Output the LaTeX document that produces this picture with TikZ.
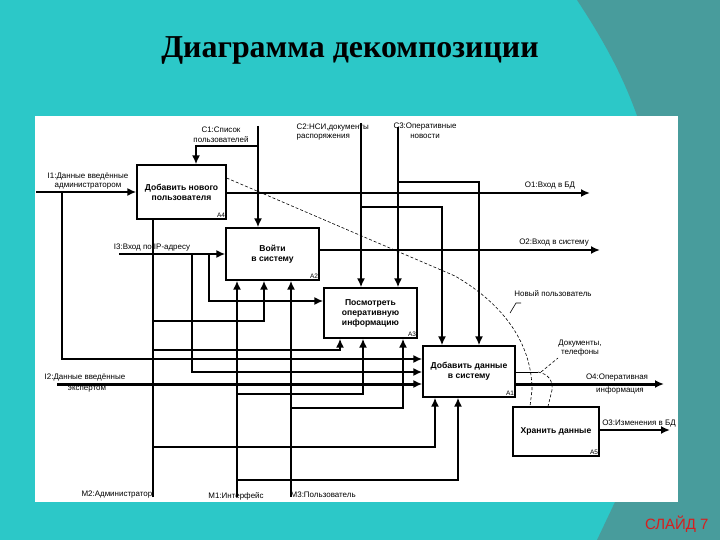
\documentclass[tikz,border=0pt]{standalone}
\usepackage{fontspec}
\setmainfont{Liberation Serif}
\newfontfamily\labelfont{Liberation Sans}
\usetikzlibrary{arrows.meta}
\definecolor{slideteal}{RGB}{44,200,200}
\definecolor{slidedark}{RGB}{72,156,156}
\definecolor{slidered}{RGB}{215,30,30}
\tikzset{
  func/.style={draw, line width=1.3bp, fill=white, inner sep=1bp, align=center,
    font=\labelfont\bfseries\fontsize{8.6}{10}\selectfont},
  flow/.style={line width=2.2bp},
  into/.style={flow, -{Latex[length=9bp,width=8bp]}},
  lbl/.style={font=\labelfont\fontsize{8}{9.5}\selectfont, inner sep=0.5bp, align=center},
  boxnr/.style={font=\labelfont\fontsize{6.5}{7}\selectfont, inner sep=1.5bp, anchor=south east},
  tunnel/.style={line width=0.6bp, dash pattern=on 3bp off 2bp}
}

\begin{document}
\begin{tikzpicture}[x=1bp, y=-1bp]
  \useasboundingbox (0,0) rectangle (720,540);
  \fill[slideteal] (0,0) rectangle (720,540);
  \fill[slidedark] (577,0) .. controls (610,50) and (630,90) .. (645,140) -- (615,502)
    -- (597,540) -- (720,540) -- (720,0) -- cycle;
  \fill[white] (35,116) rectangle (678,502);

  \node[font=\bfseries\fontsize{32}{36}\selectfont] (title) at (350,50) {Диаграмма декомпозиции};
  \node[font=\labelfont\fontsize{15}{18}\selectfont, text=slidered, anchor=east] (slide) at (712,524) {СЛАЙД 7};

  % functions
  \node[func, minimum width=89bp, minimum height=54bp] (a4) at (181.5,192) {Добавить нового\\пользователя};
  \node[func, minimum width=93bp, minimum height=52bp] (a2) at (272.5,254) {Войти\\в систему};
  \node[func, minimum width=93bp, minimum height=50bp] (a3) at (370.5,313) {Посмотреть\\оперативную\\информацию};
  \node[func, minimum width=92bp, minimum height=51bp] (a1) at (469,371.5) {Добавить данные\\в систему};
  \node[func, minimum width=86bp, minimum height=49bp] (a5) at (556,431.5) {Хранить данные};
  \node[boxnr] at (a4.south east) {A4};
  \node[boxnr] at (a2.south east) {A2};
  \node[boxnr] at (a3.south east) {A3};
  \node[boxnr] at (a1.south east) {A1};
  \node[boxnr] at (a5.south east) {A5};

  \coordinate (i1) at (36,192);
  \coordinate (i3) at (119,254);
  \coordinate (i2) at (57,384);
  \coordinate (c1) at (258,126);
  \coordinate (c2) at (361,123);
  \coordinate (c3) at (398,127);
  \coordinate (m2) at (153,497);
  \coordinate (m1) at (237,497);
  \coordinate (m3) at (291,497);
  \coordinate (o1) at (590,193);
  \coordinate (o2) at (600,250);
  \coordinate (o4) at (664,384);
  \coordinate (o3) at (670,430);

  % inputs
  \draw[into] (i1) -- (a4.west |- i1);
  \draw[into] (62,192) |- (a1.west |- 0,359);
  \draw[into] (i3) -- (a2.west |- i3);
  \draw[into] (192,254) |- (a1.west |- 0,372);
  \draw[into] (209,254) |- (a3.west |- 0,301);
  \draw[into, line width=3bp] (i2) -- (a1.west |- i2);

  % controls
  \draw[into] (c1) -- (c1 |- a2.north);
  \draw[into] (258,146) -| (196,0 |- a4.north);
  \draw[into] (c2) -- (c2 |- a3.north);
  \draw[into] (361,207) -| (442,0 |- a1.north);
  \draw[into] (c3) -- (c3 |- a3.north);
  \draw[into] (398,182) -| (479,0 |- a1.north);

  % mechanisms
  \draw[flow] (m2) -- (m2 |- a4.south);
  \draw[into] (153,321) -| (264,0 |- a2.south);
  \draw[into] (153,350) -| (340,0 |- a3.south);
  \draw[into] (153,447) -| (435,0 |- a1.south);
  \draw[into] (m1) -- (m1 |- a2.south);
  \draw[into] (237,394) -| (363,0 |- a3.south);
  \draw[into] (237,480) -| (458,0 |- a1.south);
  \draw[into] (m3) -- (m3 |- a2.south);
  \draw[into] (291,408) -| (403,0 |- a3.south);

  % outputs
  \draw[into] (a4.east |- o1) -- (o1);
  \draw[into] (a2.east |- o2) -- (o2);
  \draw[into, line width=3bp] (a1.east |- o4) -- (o4);
  \draw[into] (a5.east |- o3) -- (o3);
  \draw[line width=0.8bp] (a1.east |- 0,372) -- (538,372);
  \draw[tunnel] (538,372) .. controls (548,374) and (553,380) .. (552,390) -- (548,0 |- a5.north);
  \draw[tunnel] (a4.east |- 0,178) -- (455,276) .. controls (505,305) and (532,345) .. (532,390)
    -- (530,0 |- a5.north);
  \draw[line width=0.6bp] (510,313) -- (516,303) -- (521,303);
  \draw[tunnel] (541,372) -- (558,358);

  % labels
  \node[lbl, anchor=south] (i1txt) at (88,190) {I1:Данные введённые\\администратором};
  \node[lbl, anchor=south] (i3txt) at (152,252) {I3:Вход по IP-адресу};
  \node[lbl, anchor=south] (i2txt) at (85,382) {I2:Данные введённые};
  \node[lbl, anchor=north] at (87,386) {экспертом};
  \node[lbl, anchor=south] (c1txt) at (221,143) {C1:Список\\пользователей};
  \node[lbl, anchor=south west, align=left] (c2txt) at (296,141) {C2:НСИ,документы\\распоряжения};
  \node[lbl, anchor=south] (c3txt) at (425,139) {C3:Оперативные\\новости};
  \node[lbl, anchor=south] (o1txt) at (550,190) {O1:Вход в БД};
  \node[lbl, anchor=south] (o2txt) at (554,247) {O2:Вход в систему};
  \node[lbl, anchor=south] (o4txt) at (617,382) {O4:Оперативная};
  \node[lbl, anchor=north] at (620,386) {информация};
  \node[lbl, anchor=south] (o3txt) at (639,428) {O3:Изменения в БД};
  \node[lbl] (newusr) at (553,294) {Новый пользователь};
  \node[lbl] (docs) at (580,348) {Документы,\\телефоны};
  \node[lbl, anchor=east] (m2txt) at (153,495) {M2:Администратор};
  \node[lbl] (m1txt) at (236,496) {M1:Интерфейс};
  \node[lbl, anchor=west] (m3txt) at (290,495) {M3:Пользователь};
\end{tikzpicture}
\end{document}
